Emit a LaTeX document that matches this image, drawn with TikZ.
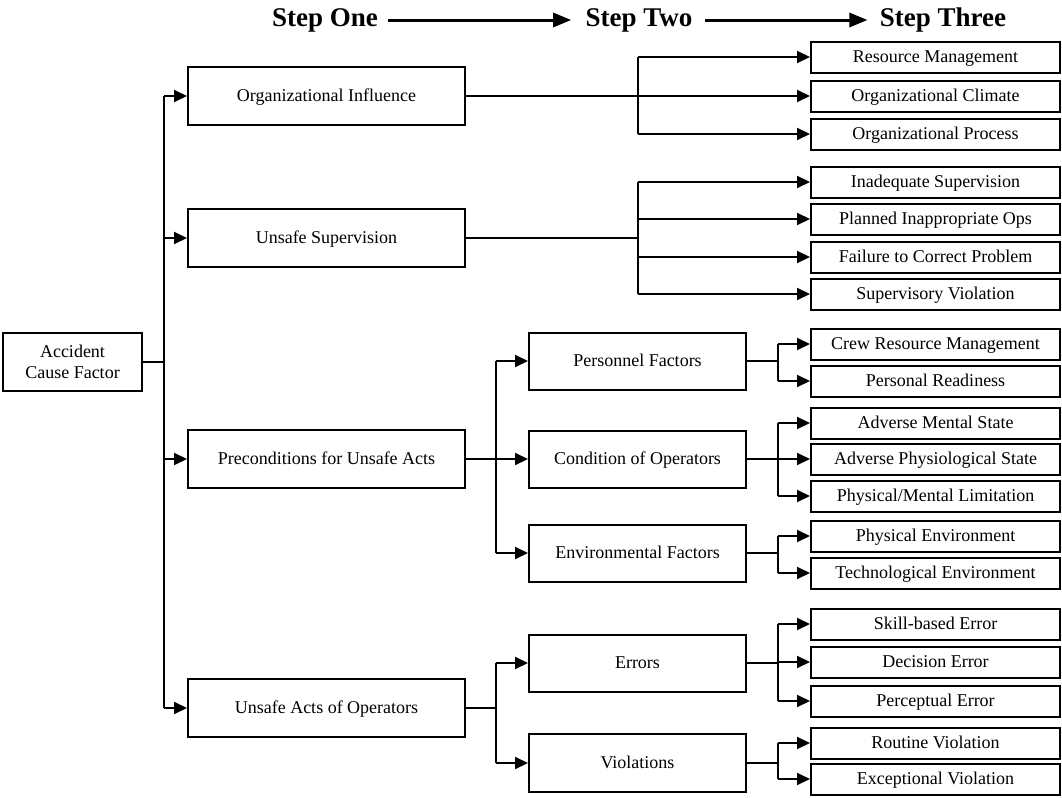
\documentclass[tikz,border=0pt]{standalone}
\usepackage{fontspec}
\setmainfont{Liberation Serif}
\usetikzlibrary{arrows.meta}
\begin{document}
\begin{tikzpicture}[x=0.5pt,y=-0.5pt,
 box/.style={draw,line width=1pt,inner sep=0pt,font=\fontsize{9}{10.8}\selectfont},
 onel/.style={box,text height=6pt,text depth=1pt},
 lone/.style={onel,minimum width=138.5pt,minimum height=29pt},
 ltwo/.style={onel,minimum width=108.5pt,minimum height=28.5pt},
 lthree/.style={onel,minimum width=124.5pt,minimum height=15.5pt},
 conn/.style={line width=1pt},
 arr/.style={conn,-{Triangle[length=6.5pt,width=6pt]}},
 hd/.style={font=\fontsize{13.5}{16}\selectfont\bfseries,inner sep=0pt},
 harr/.style={line width=1.5pt,-{Triangle[length=9pt,width=7pt]}}
]
\useasboundingbox (0,0) rectangle (1062,798);

% header
\node[hd] (s1) at (325,20) {Step One};
\node[hd] (s2) at (639,20) {Step Two};
\node[hd] (s3) at (943,20) {Step Three};
\draw[harr,shorten <=5pt,shorten >=7pt] (s1.east) -- (s2.west);
\draw[harr,shorten <=6pt,shorten >=6pt] (s2.east) -- (s3.west);

% root
\node[box,align=center,minimum width=69.5pt,minimum height=29pt] (acf) at (72.5,362) {Accident\\Cause Factor};

% level one
\node[lone] (oi) at (326.5,96) {Organizational Influence};
\node[lone] (us) at (326.5,238) {Unsafe Supervision};
\node[lone] (pre) at (326.5,459) {Preconditions for Unsafe Acts};
\node[lone] (ua) at (326.5,708) {Unsafe Acts of Operators};

% level two
\node[ltwo] (pf) at (637.5,361) {Personnel Factors};
\node[ltwo] (co) at (637.5,459) {Condition of Operators};
\node[ltwo] (ef) at (637.5,553) {Environmental Factors};
\node[ltwo] (er) at (637.5,663) {Errors};
\node[ltwo,minimum height=29pt] (vi) at (637.5,763) {Violations};

% level three
\node[lthree] (rm) at (935.5,57) {Resource Management};
\node[lthree] (oc) at (935.5,96) {Organizational Climate};
\node[lthree] (op) at (935.5,134) {Organizational Process};
\node[lthree] (isup) at (935.5,182) {Inadequate Supervision};
\node[lthree] (pio) at (935.5,219) {Planned Inappropriate Ops};
\node[lthree] (fcp) at (935.5,257) {Failure to Correct Problem};
\node[lthree] (svi) at (935.5,294) {Supervisory Violation};
\node[lthree] (crm) at (935.5,344) {Crew Resource Management};
\node[lthree] (prd) at (935.5,381) {Personal Readiness};
\node[lthree] (ams) at (935.5,423) {Adverse Mental State};
\node[lthree] (aps) at (935.5,459) {Adverse Physiological State};
\node[lthree] (pml) at (935.5,496) {Physical/Mental Limitation};
\node[lthree] (pen) at (935.5,536) {Physical Environment};
\node[lthree] (ten) at (935.5,573) {Technological Environment};
\node[lthree] (sbe) at (935.5,624) {Skill-based Error};
\node[lthree] (dce) at (935.5,662) {Decision Error};
\node[lthree] (pce) at (935.5,701) {Perceptual Error};
\node[lthree] (rvi) at (935.5,743) {Routine Violation};
\node[lthree] (evi) at (935.5,779) {Exceptional Violation};

% branch coordinates
\coordinate (t1) at (164,96);
\coordinate (t2) at (164,708);
\coordinate (b1) at (638,0);
\coordinate (b2) at (496,0);
\coordinate (b3) at (778,0);

% root to level one
\draw[conn] (acf.east) -- (acf.east -| t1);
\draw[conn] (t1) -- (t2);
\foreach \n in {oi,us,pre,ua} \draw[arr] (\n.west -| t1) -- (\n.west);

% organizational influence
\draw[arr] (oi.east) -- (oc.west);
\draw[conn] (b1 |- rm.west) -- (b1 |- op.west);
\foreach \n in {rm,op} \draw[arr] (b1 |- \n.west) -- (\n.west);

% unsafe supervision
\draw[conn] (us.east) -- (us.east -| b1);
\draw[conn] (b1 |- isup.west) -- (b1 |- svi.west);
\foreach \n in {isup,pio,fcp,svi} \draw[arr] (b1 |- \n.west) -- (\n.west);

% preconditions
\draw[conn] (pre.east) -- (pre.east -| b2);
\draw[conn] (b2 |- pf.west) -- (b2 |- ef.west);
\foreach \n in {pf,co,ef} \draw[arr] (b2 |- \n.west) -- (\n.west);

\draw[conn] (pf.east) -- (pf.east -| b3);
\draw[conn] (b3 |- crm.west) -- (b3 |- prd.west);
\foreach \n in {crm,prd} \draw[arr] (b3 |- \n.west) -- (\n.west);

\draw[conn] (co.east) -- (co.east -| b3);
\draw[conn] (b3 |- ams.west) -- (b3 |- pml.west);
\foreach \n in {ams,aps,pml} \draw[arr] (b3 |- \n.west) -- (\n.west);

\draw[conn] (ef.east) -- (ef.east -| b3);
\draw[conn] (b3 |- pen.west) -- (b3 |- ten.west);
\foreach \n in {pen,ten} \draw[arr] (b3 |- \n.west) -- (\n.west);

% unsafe acts
\draw[conn] (ua.east) -- (ua.east -| b2);
\draw[conn] (b2 |- er.west) -- (b2 |- vi.west);
\foreach \n in {er,vi} \draw[arr] (b2 |- \n.west) -- (\n.west);

\draw[conn] (er.east) -- (er.east -| b3);
\draw[conn] (b3 |- sbe.west) -- (b3 |- pce.west);
\foreach \n in {sbe,dce,pce} \draw[arr] (b3 |- \n.west) -- (\n.west);

\draw[conn] (vi.east) -- (vi.east -| b3);
\draw[conn] (b3 |- rvi.west) -- (b3 |- evi.west);
\foreach \n in {rvi,evi} \draw[arr] (b3 |- \n.west) -- (\n.west);
\end{tikzpicture}
\end{document}
